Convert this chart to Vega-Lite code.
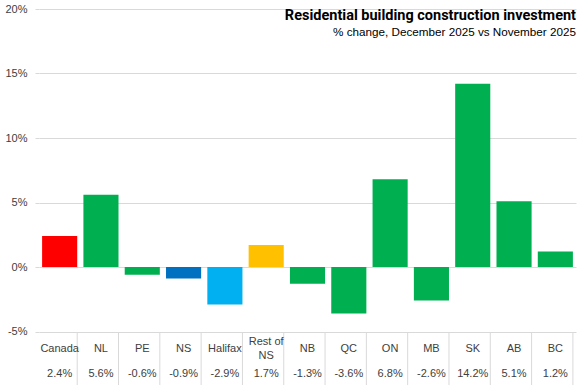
{
  "$schema": "https://vega.github.io/schema/vega-lite/v6.json",
  "padding": {"left": 4, "top": 3, "right": 1, "bottom": 0},
  "background": "white",
  "spacing": 0,
  "bounds": "flush",
  "config": {
    "font": "Liberation Sans",
    "view": {"stroke": null},
    "locale": {
      "number": {"decimal": ".", "thousands": ",", "grouping": [3], "currency": ["$", ""], "minus": "-"}
    }
  },
  "data": {
    "values": [
      {"region": "Canada", "label": "Canada", "pct": 0.024},
      {"region": "NL", "label": "NL", "pct": 0.056},
      {"region": "PE", "label": "PE", "pct": -0.006},
      {"region": "NS", "label": "NS", "pct": -0.009},
      {"region": "Halifax", "label": "Halifax", "pct": -0.029},
      {"region": "Rest of NS", "label": "Rest of\nNS", "pct": 0.017},
      {"region": "NB", "label": "NB", "pct": -0.013},
      {"region": "QC", "label": "QC", "pct": -0.036},
      {"region": "ON", "label": "ON", "pct": 0.068},
      {"region": "MB", "label": "MB", "pct": -0.026},
      {"region": "SK", "label": "SK", "pct": 0.142},
      {"region": "AB", "label": "AB", "pct": 0.051},
      {"region": "BC", "label": "BC", "pct": 0.012}
    ]
  },
  "vconcat": [
    {
      "width": 537,
      "height": 322.5,
      "title": {
        "text": "Residential building construction investment",
        "subtitle": "% change, December 2025 vs November 2025",
        "anchor": "end",
        "frame": "group",
        "offset": -37,
        "font": "Roboto",
        "fontSize": 14.5,
        "fontWeight": "bold",
        "color": "#000000",
        "subtitleFont": "Liberation Sans",
        "subtitleFontSize": 11.7,
        "subtitleColor": "#000000",
        "subtitlePadding": 4
      },
      "mark": {"type": "bar"},
      "encoding": {
        "x": {
          "field": "region",
          "type": "nominal",
          "sort": null,
          "scale": {"paddingInner": 0.15, "paddingOuter": 0.075},
          "axis": null
        },
        "y": {
          "field": "pct",
          "type": "quantitative",
          "scale": {"domain": [-0.05, 0.2], "nice": false, "zero": false},
          "axis": {
            "title": null,
            "values": [-0.05, 0, 0.05, 0.1, 0.15, 0.2],
            "format": "%",
            "domain": false,
            "grid": true,
            "gridColor": "#d9d9d9",
            "gridWidth": 1,
            "ticks": true,
            "tickSize": 4,
            "tickColor": "#d9d9d9",
            "labelPadding": 8,
            "labelFontSize": 11,
            "labelColor": "#404040"
          }
        },
        "color": {
          "field": "region",
          "type": "nominal",
          "scale": {
            "domain": ["Canada", "NL", "PE", "NS", "Halifax", "Rest of NS", "NB", "QC", "ON", "MB", "SK", "AB", "BC"],
            "range": ["#ff0000", "#00b050", "#00b050", "#0070c0", "#00b0f0", "#ffc000", "#00b050", "#00b050", "#00b050", "#00b050", "#00b050", "#00b050", "#00b050"]
          },
          "legend": null
        }
      }
    },
    {
      "width": 537,
      "height": 53,
      "encoding": {
        "x": {
          "field": "region",
          "type": "nominal",
          "sort": null,
          "scale": {"paddingInner": 0.15, "paddingOuter": 0.075},
          "axis": {
            "title": null,
            "labels": false,
            "ticks": false,
            "grid": false,
            "domain": true,
            "domainColor": "#d9d9d9"
          }
        }
      },
      "layer": [
        {
          "mark": {"type": "rule", "color": "#d9d9d9", "strokeWidth": 1},
          "encoding": {
            "x": {"field": "region", "type": "nominal", "sort": null, "bandPosition": 1}
          }
        },
        {
          "transform": [{"filter": "datum.region !== 'Rest of NS'"}],
          "mark": {"type": "text", "fontSize": 11, "color": "#404040", "baseline": "middle"},
          "encoding": {
            "y": {
              "datum": "label",
              "type": "ordinal",
              "scale": {"type": "point", "domain": ["label", "value"], "padding": 0.58, "align": 0.6},
              "axis": null
            },
            "text": {"field": "label"}
          }
        },
        {
          "transform": [{"filter": "datum.region === 'Rest of NS'"}],
          "mark": {"type": "text", "fontSize": 11, "color": "#404040", "baseline": "middle", "lineBreak": "\n", "lineHeight": 14, "dy": -7},
          "encoding": {
            "y": {"datum": "label", "type": "ordinal"},
            "text": {"field": "label"}
          }
        },
        {
          "mark": {"type": "text", "fontSize": 11, "color": "#404040", "baseline": "middle"},
          "encoding": {
            "y": {"datum": "value", "type": "ordinal"},
            "text": {"field": "pct", "type": "quantitative", "format": ".1%"}
          }
        }
      ]
    }
  ]
}
